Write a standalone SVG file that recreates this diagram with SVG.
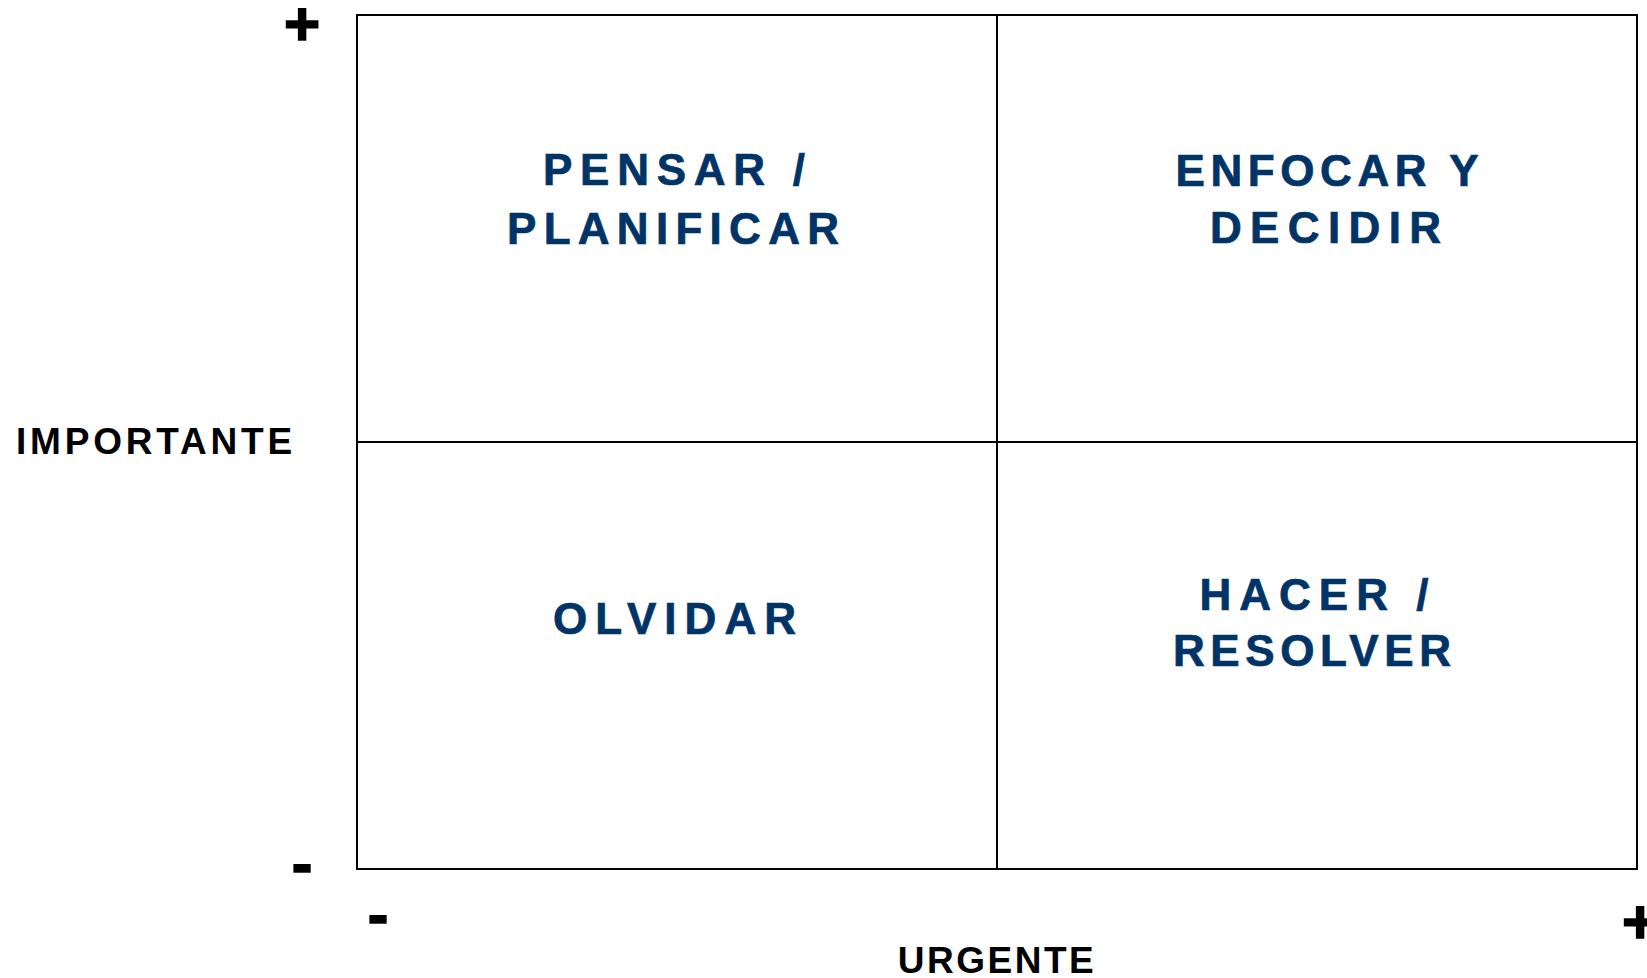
<svg xmlns="http://www.w3.org/2000/svg" width="1647" height="978" viewBox="0 0 1647 978">
<style>
.ax{font-family:"Liberation Sans",Arial,sans-serif;font-weight:bold;fill:#000;}
.sign{font-size:62px;stroke:#000;stroke-width:1.6;text-anchor:middle;}
.lbl{font-size:37px;}
.q{font-family:"Liberation Sans",Arial,sans-serif;font-weight:bold;font-size:44px;fill:#003366;stroke:#003366;stroke-width:0.7;text-anchor:middle;}
.grid{fill:none;stroke:#000;stroke-width:2;}
</style>
<rect width="1647" height="978" fill="#fff"/>
<g id="grid">
<rect class="grid" x="357" y="15" width="1280" height="854"/>
<line class="grid" x1="997" y1="15" x2="997" y2="869"/>
<line class="grid" x1="357" y1="442" x2="1637" y2="442"/>
</g>
<g id="axes">
<text class="ax sign" x="302" y="45">+</text>
<text class="ax sign" x="302" y="883.5">-</text>
<text class="ax sign" x="378" y="935">-</text>
<text class="ax sign" x="1640" y="943">+</text>
<text class="ax lbl" x="16" y="454" style="letter-spacing:3.8px">IMPORTANTE</text>
<text class="ax lbl" x="997" y="973" text-anchor="middle" style="letter-spacing:2.5px">URGENTE</text>
</g>
<g id="q-pensar">
<text class="q" x="674" y="185" textLength="262" lengthAdjust="spacing">PENSAR /</text>
<text class="q" x="673" y="244" textLength="332" lengthAdjust="spacing">PLANIFICAR</text>
</g>
<g id="q-enfocar">
<text class="q" x="1327" y="186" textLength="303" lengthAdjust="spacing">ENFOCAR Y</text>
<text class="q" x="1325.5" y="243" textLength="231" lengthAdjust="spacing">DECIDIR</text>
</g>
<g id="q-olvidar">
<text class="q" x="674.5" y="634" textLength="243" lengthAdjust="spacing">OLVIDAR</text>
</g>
<g id="q-hacer">
<text class="q" x="1314" y="610" textLength="229" lengthAdjust="spacing">HACER /</text>
<text class="q" x="1312" y="666" textLength="278" lengthAdjust="spacing">RESOLVER</text>
</g>
</svg>
